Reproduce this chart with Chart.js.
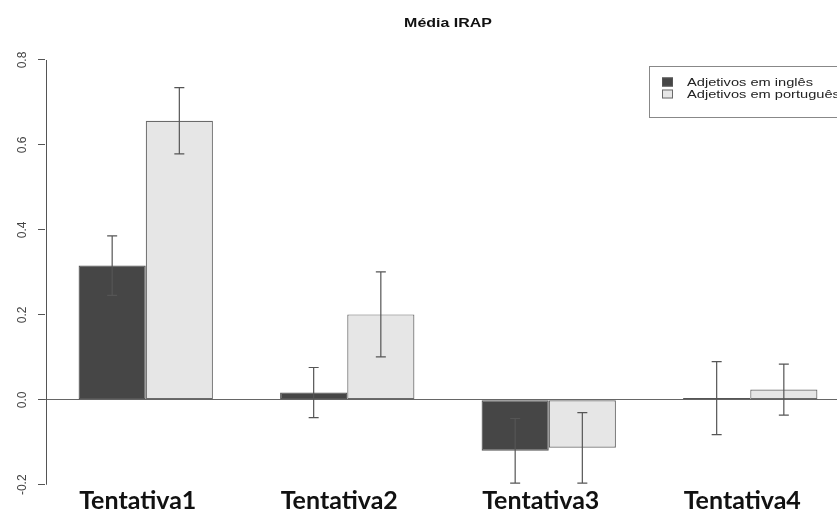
<!DOCTYPE html>
<html>
<head>
<meta charset="utf-8">
<script src="https://cdn.jsdelivr.net/npm/chart.js@4"></script>
<style>
  html, body { margin: 0; padding: 0; background: #fff; overflow: hidden; width: 837px; height: 513px; }
  #wrap { position: relative; width: 861px; height: 530px; }
</style>
</head>
<body>
<div id="wrap"><canvas id="c"></canvas></div>
<script>
// Mean IRAP score per attempt, with error bar half-widths
const categories = ['Tentativa1', 'Tentativa2', 'Tentativa3', 'Tentativa4'];
const seriesNames = ['Adjetivos em inglês', 'Adjetivos em português'];
const meanIngles = [0.316, 0.017, -0.120, 0.004];
const meanPortugues = [0.657, 0.201, -0.113, 0.024];
const errIngles = [0.070, 0.059, 0.076, 0.086];
const errPortugues = [0.078, 0.100, 0.083, 0.060];
const yTicks = [-0.2, 0.0, 0.2, 0.4, 0.6, 0.8];
const titleText = 'Média IRAP';

const DARK = '#464646';
const LIGHT = '#e6e6e6';
const EDGE = '#6a6a6a';
const WIDE = 1.33; // horizontal stretch of the plot text

// Vertical error bars with short caps, centred on each bar
const errorBars = {
  id: 'errorBars',
  afterDatasetsDraw(chart) {
    const { ctx, scales: { y } } = chart;
    ctx.save();
    ctx.strokeStyle = '#555';
    ctx.lineWidth = 1.2;
    chart.data.datasets.forEach((ds, i) => {
      const meta = chart.getDatasetMeta(i);
      meta.data.forEach((bar, j) => {
        const m = ds.data[j], e = ds.errors[j];
        const yTop = y.getPixelForValue(m + e);
        const yBot = y.getPixelForValue(m - e);
        const x = bar.x;
        ctx.beginPath();
        ctx.moveTo(x, yTop); ctx.lineTo(x, yBot);
        ctx.moveTo(x - 5, yTop); ctx.lineTo(x + 5, yTop);
        ctx.moveTo(x - 5, yBot); ctx.lineTo(x + 5, yBot);
        ctx.stroke();
      });
    });
    ctx.restore();
  }
};

// Y axis line spanning only the labelled tick range
const yAxisLine = {
  id: 'yAxisLine',
  afterDraw(chart) {
    const { ctx, chartArea, scales: { y } } = chart;
    const x = chartArea.left + 1.5;
    ctx.save();
    ctx.strokeStyle = '#555';
    ctx.lineWidth = 1;
    ctx.beginPath();
    ctx.moveTo(x, y.getPixelForValue(yTicks[0]));
    ctx.lineTo(x, y.getPixelForValue(yTicks[yTicks.length - 1]));
    ctx.stroke();
    ctx.restore();
  }
};

// Draws text stretched horizontally around its anchor point
function wideText(ctx, text, x, y, align) {
  ctx.save();
  ctx.translate(x, y);
  ctx.scale(WIDE, 1);
  ctx.textAlign = align;
  ctx.fillText(text, 0, 0);
  ctx.restore();
}

// Title centred over the plot area
const plotTitle = {
  id: 'plotTitle',
  afterDraw(chart) {
    const { ctx, chartArea } = chart;
    ctx.save();
    ctx.fillStyle = '#111';
    ctx.font = 'bold 12px "Liberation Sans", Arial, sans-serif';
    ctx.textBaseline = 'middle';
    wideText(ctx, titleText, (chartArea.left + chartArea.right) / 2, 24, 'center');
    ctx.restore();
  }
};

// Boxed legend in the upper right
const boxLegend = {
  id: 'boxLegend',
  afterDraw(chart) {
    const { ctx } = chart;
    const left = 649, top = 66, bottom = 117, right = chart.width - 2;
    ctx.save();
    ctx.fillStyle = '#fff';
    ctx.fillRect(left, top, right - left, bottom - top);
    ctx.strokeStyle = '#888';
    ctx.lineWidth = 1;
    ctx.strokeRect(left + 0.5, top + 0.5, right - left, bottom - top);
    ctx.font = '11px "Liberation Sans", Arial, sans-serif';
    ctx.textBaseline = 'middle';
    chart.data.datasets.forEach((ds, i) => {
      const cy = 82 + i * 12;
      ctx.fillStyle = ds.backgroundColor;
      ctx.fillRect(662, cy - 4.5, 11, 9);
      ctx.strokeStyle = ds.borderColor;
      ctx.strokeRect(662.5, cy - 4, 10, 8);
      ctx.fillStyle = '#222';
      wideText(ctx, ds.label, 687, cy + 0.5, 'left');
    });
    ctx.restore();
  }
};

new Chart(document.getElementById('c'), {
  type: 'bar',
  data: {
    labels: categories,
    datasets: [
      { label: seriesNames[0], data: meanIngles, errors: errIngles,
        backgroundColor: DARK, borderColor: '#555', borderWidth: 1.2, borderSkipped: false },
      { label: seriesNames[1], data: meanPortugues, errors: errPortugues,
        backgroundColor: LIGHT, borderColor: EDGE, borderWidth: 1.2, borderSkipped: false }
    ]
  },
  options: {
    responsive: true,
    maintainAspectRatio: false,
    animation: false,
    datasets: { bar: { categoryPercentage: 2 / 3, barPercentage: 1 } },
    layout: { padding: { left: 0, right: 10, top: 43, bottom: 0 } },
    plugins: {
      legend: { display: false },
      tooltip: { enabled: false },
      title: { display: false }
    },
    scales: {
      x: {
        grid: { display: false, drawTicks: false },
        border: { display: false },
        ticks: {
          color: '#111', padding: -3, maxRotation: 0, autoSkip: false, labelOffset: -8,
          font: { family: 'Lato, "Open Sans", sans-serif', size: 25, weight: 'bold' }
        },
        afterFit(s) { s.height = 41; }
      },
      y: {
        min: -0.21, max: 0.84,
        afterBuildTicks(s) { s.ticks = yTicks.map(v => ({ value: v })); },
        afterFit(s) { s.width = 45; },
        border: { display: false },
        grid: {
          drawOnChartArea: true, drawTicks: true, tickLength: 7,
          tickColor: '#555', lineWidth: 1,
          color: c => (c.tick && Math.abs(c.tick.value) < 1e-9) ? '#666' : 'rgba(0,0,0,0)'
        },
        ticks: {
          minRotation: 90, maxRotation: 90, crossAlign: 'center', padding: 5,
          color: '#444',
          font: { family: '"Liberation Sans", Arial, sans-serif', size: 12 },
          callback: v => Number(v).toFixed(1)
        }
      }
    }
  },
  plugins: [errorBars, yAxisLine, plotTitle, boxLegend]
});
</script>
</body>
</html>
